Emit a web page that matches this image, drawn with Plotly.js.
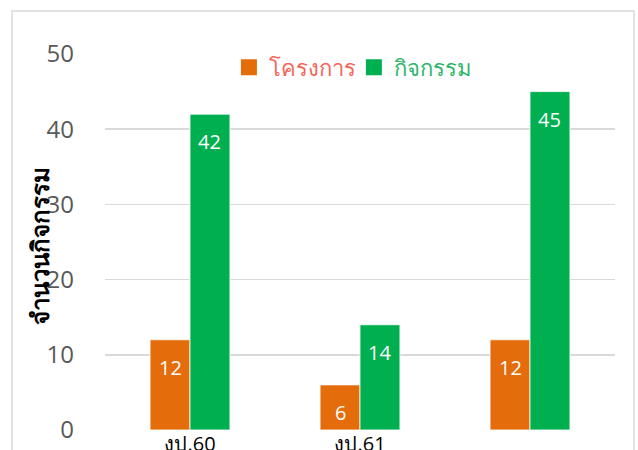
<!DOCTYPE html>
<html>
<head>
<meta charset="utf-8">
<script src="https://cdn.plot.ly/plotly-3.0.1.min.js"></script>
<style>html,body{margin:0;padding:0;background:#fff;}</style>
</head>
<body>
<div id="chart" style="width:638px;height:450px;"></div>
<script>
const categories = ['งป.60', 'งป.61', 'งป.62'];
const tickLabels = ['งป.60', 'งป.61', ''];
const seriesNames = ['โครงการ', 'กิจกรรม'];
const projects = [12, 6, 12];
const activities = [42, 14, 45];
const yTicks = [0, 10, 20, 30, 40, 50];

const colors = ['#E46C0A', '#00B050'];
const legendColors = ['#F5665A', '#2DB56B'];
const BARGAP = 0.53;
const FONT = "'Open Sans', 'Noto Sans', sans-serif";

const seriesValues = [projects, activities];
const legendIds = ['legend', 'legend2'];

const traces = seriesValues.map((vals, s) => ({
  type: 'bar',
  name: seriesNames[s],
  x: categories,
  y: vals,
  marker: {color: colors[s], line: {color: '#ffffff', width: 0.8}},
  showlegend: false,
  hoverinfo: 'skip'
}));
// legend entries with larger square swatches
seriesNames.forEach((nm, s) => {
  traces.push({
    type: 'scatter', mode: 'markers', name: nm,
    x: [null], y: [null],
    marker: {symbol: 'square', size: 19, color: colors[s]},
    legend: legendIds[s], showlegend: true, hoverinfo: 'skip'
  });
});

// data labels inside bar ends
const annotations = [];
const half = (1 - BARGAP) / 4;
seriesValues.forEach((vals, s) => {
  vals.forEach((v, i) => {
    annotations.push({
      x: i + (s === 0 ? -half : half), y: v, xref: 'x', yref: 'y',
      text: String(v), showarrow: false, yanchor: 'top', yshift: -12,
      font: {family: FONT, size: 20, color: '#ffffff'}
    });
  });
});
annotations.push({
  text: '<b>จำนวนกิจกรรม</b>', xref: 'paper', yref: 'paper',
  x: (40 - 105) / 510, y: 0.49, xanchor: 'center', yanchor: 'middle',
  textangle: -90, showarrow: false,
  font: {family: FONT, size: 24, color: '#000000'}
});

const layout = {
  width: 638, height: 450,
  margin: {l: 105, r: 23, t: 54, b: 20},
  paper_bgcolor: '#ffffff', plot_bgcolor: '#ffffff',
  font: {family: FONT},
  showlegend: true,
  bargap: BARGAP, bargroupgap: 0, barmode: 'group',
  xaxis: {
    type: 'category', tickvals: categories, ticktext: tickLabels,
    range: [-0.5, 2.5],
    showgrid: false, zeroline: false, showline: false, ticks: '',
    tickfont: {family: FONT, size: 20, color: '#000000'}, ticklabelstandoff: 0
  },
  yaxis: {
    range: [0, 50], tickvals: yTicks, showgrid: true, gridcolor: '#D9D9D9', gridwidth: 1.5,
    zeroline: false, showline: false, ticks: '',
    tickfont: {family: FONT, size: 24, color: '#595959'}, ticklabelstandoff: 30
  },
  legend: {
    orientation: 'h', x: 0.243, y: 1.02, xanchor: 'left', yanchor: 'top',
    bgcolor: 'rgba(0,0,0,0)', font: {family: FONT, size: 22, color: legendColors[0]}
  },
  legend2: {
    orientation: 'h', x: 0.488, y: 1.02, xanchor: 'left', yanchor: 'top',
    bgcolor: 'rgba(0,0,0,0)', font: {family: FONT, size: 22, color: legendColors[1]}
  },
  shapes: [{
    type: 'rect', xref: 'paper', yref: 'paper',
    x0: (12 - 105) / 510, x1: (634 - 105) / 510, y0: -0.3, y1: 1.1145,
    line: {color: '#D9D9D9', width: 1.5}, fillcolor: 'rgba(0,0,0,0)', layer: 'below'
  }],
  annotations: annotations
};

Plotly.newPlot('chart', traces, layout, {displayModeBar: false, staticPlot: true});
</script>
</body>
</html>
